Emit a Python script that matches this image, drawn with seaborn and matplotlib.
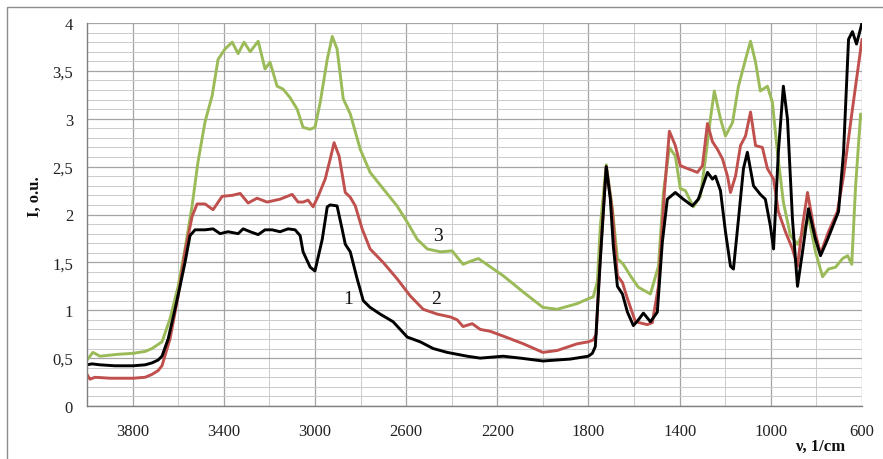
import numpy as np
import pandas as pd
import matplotlib
matplotlib.use("Agg")
import matplotlib.pyplot as plt
import seaborn as sns
from matplotlib.ticker import MultipleLocator
from matplotlib.patches import Rectangle

# ---------------- data ----------------
nu_1 = [4000, 3978, 3943, 3877, 3798, 3745, 3715, 3688, 3671, 3644, 3614, 3592, 3570, 3548, 3526,
        3482, 3447, 3416, 3381, 3337, 3315, 3284, 3249, 3219, 3188, 3153, 3118, 3087, 3065, 3052,
        3021, 3000, 2968, 2946, 2933, 2903, 2881, 2867, 2845, 2815, 2788, 2758, 2714, 2657, 2595,
        2538, 2481, 2420, 2332, 2275, 2174, 2099, 2000, 1880, 1801, 1783, 1770, 1748, 1722, 1704,
        1691, 1673, 1651, 1629, 1603, 1581, 1559, 1528, 1498, 1476, 1454, 1419, 1384, 1344, 1318,
        1278, 1256, 1243, 1221, 1199, 1177, 1164, 1142, 1120, 1103, 1076, 1046, 1024, 1002, 988,
        967, 945, 927, 905, 883, 861, 835, 804, 782, 751, 703, 681, 659, 642, 624, 600]
I_1 = [0.43, 0.44, 0.43, 0.42, 0.42, 0.43, 0.45, 0.48, 0.52, 0.70, 1.01, 1.25, 1.50, 1.78, 1.84,
       1.84, 1.85, 1.80, 1.82, 1.80, 1.85, 1.82, 1.79, 1.84, 1.84, 1.82, 1.85, 1.84, 1.78, 1.61,
       1.45, 1.41, 1.74, 2.08, 2.10, 2.09, 1.85, 1.69, 1.61, 1.33, 1.10, 1.03, 0.96, 0.88, 0.72,
       0.67, 0.60, 0.56, 0.52, 0.50, 0.52, 0.50, 0.47, 0.49, 0.52, 0.55, 0.62, 1.53, 2.50, 2.16,
       1.67, 1.25, 1.17, 0.98, 0.84, 0.90, 0.97, 0.88, 0.98, 1.71, 2.16, 2.23, 2.16, 2.09, 2.16,
       2.44, 2.37, 2.40, 2.25, 1.82, 1.46, 1.43, 1.95, 2.48, 2.65, 2.30, 2.21, 2.16, 1.88, 1.64,
       2.65, 3.34, 3.00, 1.95, 1.25, 1.61, 2.06, 1.74, 1.57, 1.74, 2.03, 2.65, 3.83, 3.91, 3.78, 4.00]

nu_2 = [4000, 3987, 3965, 3899, 3798, 3745, 3715, 3688, 3671, 3636, 3600, 3570, 3539, 3517, 3482,
        3447, 3407, 3363, 3328, 3293, 3254, 3210, 3153, 3100, 3074, 3052, 3030, 3008, 2986, 2955,
        2933, 2916, 2894, 2867, 2845, 2823, 2793, 2758, 2701, 2640, 2582, 2525, 2464, 2406, 2376,
        2350, 2310, 2275, 2231, 2174, 2086, 2000, 1937, 1849, 1801, 1779, 1766, 1757, 1739, 1722,
        1695, 1673, 1651, 1629, 1594, 1542, 1520, 1493, 1467, 1445, 1419, 1397, 1366, 1322, 1300,
        1278, 1256, 1234, 1212, 1190, 1177, 1155, 1133, 1111, 1089, 1067, 1037, 1015, 988, 967,
        936, 905, 883, 861, 839, 813, 782, 747, 708, 681, 642, 600]
I_2 = [0.33, 0.28, 0.30, 0.29, 0.29, 0.30, 0.33, 0.37, 0.42, 0.70, 1.15, 1.61, 1.98, 2.11, 2.11,
       2.05, 2.19, 2.20, 2.22, 2.12, 2.17, 2.13, 2.16, 2.21, 2.13, 2.13, 2.15, 2.08, 2.19, 2.37,
       2.58, 2.75, 2.61, 2.23, 2.18, 2.09, 1.85, 1.64, 1.50, 1.33, 1.15, 1.01, 0.96, 0.93, 0.90,
       0.83, 0.86, 0.80, 0.78, 0.73, 0.65, 0.56, 0.58, 0.65, 0.67, 0.69, 0.75, 1.19, 1.90, 2.50,
       2.03, 1.36, 1.29, 1.12, 0.88, 0.85, 0.87, 1.25, 2.23, 2.87, 2.72, 2.51, 2.48, 2.44, 2.51,
       2.95, 2.76, 2.68, 2.58, 2.40, 2.23, 2.40, 2.72, 2.82, 3.07, 2.72, 2.70, 2.48, 2.37, 2.03,
       1.82, 1.64, 1.46, 1.88, 2.23, 1.88, 1.59, 1.82, 2.03, 2.40, 3.10, 3.83]

nu_3 = [4000, 3974, 3943, 3864, 3798, 3745, 3715, 3671, 3636, 3600, 3570, 3539, 3513, 3482, 3451,
        3425, 3394, 3363, 3337, 3311, 3284, 3249, 3219, 3197, 3166, 3140, 3109, 3078, 3052, 3021,
        3000, 2977, 2946, 2924, 2903, 2876, 2845, 2801, 2758, 2701, 2640, 2595, 2551, 2507, 2450,
        2398, 2371, 2350, 2319, 2283, 2174, 2086, 2000, 1937, 1849, 1801, 1779, 1761, 1748, 1722,
        1695, 1673, 1647, 1616, 1581, 1528, 1493, 1471, 1445, 1419, 1397, 1375, 1340, 1309, 1287,
        1265, 1248, 1221, 1199, 1168, 1142, 1111, 1089, 1067, 1046, 1015, 993, 971, 945, 914,
        883, 857, 835, 804, 773, 747, 716, 685, 663, 645, 628, 606, 600]
I_3 = [0.48, 0.56, 0.52, 0.54, 0.55, 0.57, 0.60, 0.67, 0.91, 1.25, 1.64, 2.09, 2.55, 2.97, 3.24,
       3.62, 3.73, 3.80, 3.68, 3.80, 3.70, 3.81, 3.52, 3.59, 3.34, 3.31, 3.22, 3.10, 2.91, 2.89,
       2.91, 3.17, 3.62, 3.86, 3.73, 3.21, 3.05, 2.68, 2.44, 2.27, 2.09, 1.92, 1.74, 1.64, 1.61,
       1.62, 1.54, 1.48, 1.51, 1.54, 1.36, 1.19, 1.03, 1.01, 1.07, 1.12, 1.14, 1.30, 1.88, 2.52,
       2.06, 1.54, 1.48, 1.36, 1.24, 1.17, 1.46, 2.23, 2.70, 2.61, 2.27, 2.25, 2.08, 2.19, 2.58,
       3.00, 3.29, 3.00, 2.82, 2.96, 3.34, 3.62, 3.81, 3.59, 3.29, 3.34, 3.17, 2.65, 2.13, 1.78,
       1.69, 1.82, 1.98, 1.61, 1.35, 1.43, 1.45, 1.54, 1.57, 1.48, 2.30, 3.05, 3.00]

series_names = ["1", "2", "3"]
series_colors = ["#000000", "#c0504d", "#9bbb59"]

y_tick_values = [0, 0.5, 1, 1.5, 2, 2.5, 3, 3.5, 4]
y_tick_labels = ["0", "0,5", "1", "1,5", "2", "2,5", "3", "3,5", "4"]
x_tick_values = [3800, 3400, 3000, 2600, 2200, 1800, 1400, 1000, 600]

# ---------------- build table ----------------
df = pd.concat([
    pd.DataFrame({"nu": nu_1, "I": I_1, "curve": "1"}),
    pd.DataFrame({"nu": nu_2, "I": I_2, "curve": "2"}),
    pd.DataFrame({"nu": nu_3, "I": I_3, "curve": "3"}),
], ignore_index=True)

sns.set_style("white")
plt.rcParams['font.family'] = ['Liberation Serif', 'DejaVu Serif']

W, H = 883, 460
fig = plt.figure(figsize=(W / 100, H / 100), dpi=100)
ax = fig.add_axes([87 / W, 53 / H, 775 / W, 383 / H])

ax.set_xlim(4000, 600)
ax.set_ylim(0, 4)

# grid
ax.set_xticks(x_tick_values)
ax.xaxis.set_minor_locator(MultipleLocator(200))
ax.set_yticks(y_tick_values)
ax.set_yticklabels(y_tick_labels)
ax.yaxis.set_minor_locator(MultipleLocator(0.1))
ax.grid(True, which="major", color="#a4a4a4", lw=0.9)
ax.grid(True, which="minor", color="#cccccc", lw=0.75)
ax.set_axisbelow(True)

# draw series (green below, red, black on top)
order = ["3", "2", "1"]
for name in order:
    col = series_colors[series_names.index(name)]
    sns.lineplot(data=df[df["curve"] == name], x="nu", y="I", color=col, lw=2.1,
                 estimator=None, sort=False, ax=ax, legend=False,
                 solid_joinstyle="round", solid_capstyle="round")

ax.set_xlabel("")
ax.set_ylabel("")

for s in ["top", "right"]:
    ax.spines[s].set_visible(False)
for s in ["left", "bottom"]:
    ax.spines[s].set_color("#7f7f7f")
    ax.spines[s].set_linewidth(1.0)

ax.tick_params(axis="both", which="major", labelsize=12, colors="#7f7f7f",
               labelcolor="#222222", length=4, width=1.0, direction="out")
ax.tick_params(axis="x", which="major", pad=8)
ax.tick_params(axis="y", which="major", pad=6)
ax.tick_params(axis="both", which="minor", length=0)

# curve labels
ax.text(2854, 1.12, "1", fontsize=14, ha="center", va="center", color="#111111")
ax.text(2468, 1.12, "2", fontsize=14, ha="center", va="center", color="#111111")
ax.text(2459, 1.78, "3", fontsize=14, ha="center", va="center", color="#111111")

# axis titles
fig.text(35 / W, 1 - 197 / H, "I, o.u.", rotation=90, fontsize=12, fontweight="bold",
         ha="center", va="center", color="#111111")
fig.text(820 / W, 1 - 447 / H, "ν, 1/cm", fontsize=12, fontweight="bold",
         ha="center", va="center", color="#111111")

# outer chart border
fig.patches.append(Rectangle((7 / W, -0.02), 1.05, 1 - 8 / H + 0.02, transform=fig.transFigure,
                             fill=False, edgecolor="#8c8c8c", lw=1.0))

fig.savefig("out.png", dpi=100)
